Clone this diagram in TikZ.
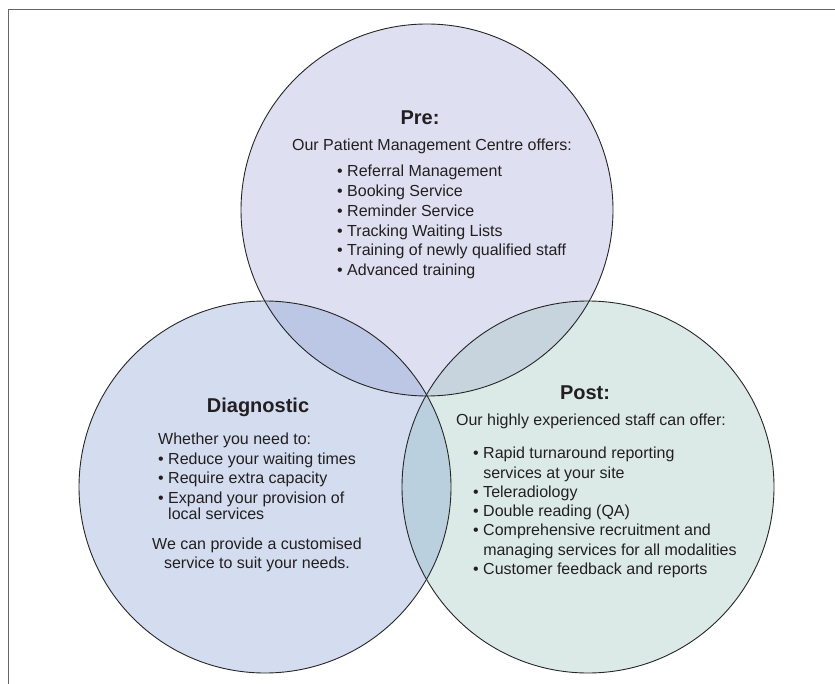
\documentclass[tikz,border=0pt]{standalone}
\usepackage{fontspec}
\setmainfont{Liberation Sans}
\usetikzlibrary{positioning}
\definecolor{precolor}{RGB}{222,223,240}
\definecolor{diagcolor}{RGB}{211,221,239}
\definecolor{postcolor}{RGB}{220,234,231}
\definecolor{prediagcolor}{RGB}{188,198,229}
\definecolor{prepostcolor}{RGB}{199,212,222}
\definecolor{diagpostcolor}{RGB}{186,208,222}
\definecolor{inkcolor}{RGB}{35,31,32}

\begin{document}
\begin{tikzpicture}[x=1pt, y=-1pt,
		head/.style = {font=\bfseries\fontsize{20}{24}\selectfont, text=inkcolor, inner sep=0pt},
		body/.style = {font=\fontsize{16}{19.5}\selectfont, text=inkcolor, inner sep=0pt, align=left},
		ring/.style = {draw=black!85, line width=0.9pt}
		]
		\useasboundingbox (0,0) rectangle (835,684);
		\def\rad{186pt}
		\coordinate (pre) at (427,210);
		\coordinate (diag) at (265,487);
		\coordinate (post) at (588,487);
		
		% frame
		\draw[black!60, line width=1pt] (835,10) -- (8,10) -- (8,684);
		
		% circles and overlaps
		\fill[precolor] (pre) circle[radius=\rad];
		\fill[diagcolor] (diag) circle[radius=\rad];
		\fill[postcolor] (post) circle[radius=\rad];
		\begin{scope}
			\clip (pre) circle[radius=\rad];
			\fill[prediagcolor] (diag) circle[radius=\rad];
			\fill[prepostcolor] (post) circle[radius=\rad];
		\end{scope}
		\begin{scope}
			\clip (diag) circle[radius=\rad];
			\fill[diagpostcolor] (post) circle[radius=\rad];
		\end{scope}
		\draw[ring] (pre) circle[radius=\rad];
		\draw[ring] (diag) circle[radius=\rad];
		\draw[ring] (post) circle[radius=\rad];
		
		% Pre
		\node (prehead) [head] at (420,118) {Pre:};
		\node (preintro) [body] at (432,146) {Our Patient Management Centre offers:};
		\node (prelist) [body, anchor=north west, font=\fontsize{16}{19.8}\selectfont] at (337,165) {• Referral Management\\ • Booking Service\\ • Reminder Service\\ • Tracking Waiting Lists\\ • Training of newly qualified staff\\ • Advanced training};
		
		% Diagnostic
		\node (diaghead) [head] at (258,407) {Diagnostic};
		\node (diaglist) [body, anchor=north west] at (158,433) {Whether you need to:\\ • Reduce your waiting times\\ • Require extra capacity\\ • Expand your provision of\\[-3.5pt] \phantom{• }local services};
		\node (diagnote) [body, align=center] at (257,555) {We can provide a customised\\ service to suit your needs.};
		
		% Post
		\node (posthead) [head] at (585,393) {Post:};
		\node (postintro) [body] at (591,421) {Our highly experienced staff can offer:};
		\node (postlist) [body, anchor=north west, font=\fontsize{16}{19.3}\selectfont] at (473,447) {• Rapid turnaround reporting\\ \phantom{• }services at your site\\ • Teleradiology\\ • Double reading (QA)\\ • Comprehensive recruitment and\\ \phantom{• }managing services for all modalities\\ • Customer feedback and reports};
	\end{tikzpicture}
\end{document}
